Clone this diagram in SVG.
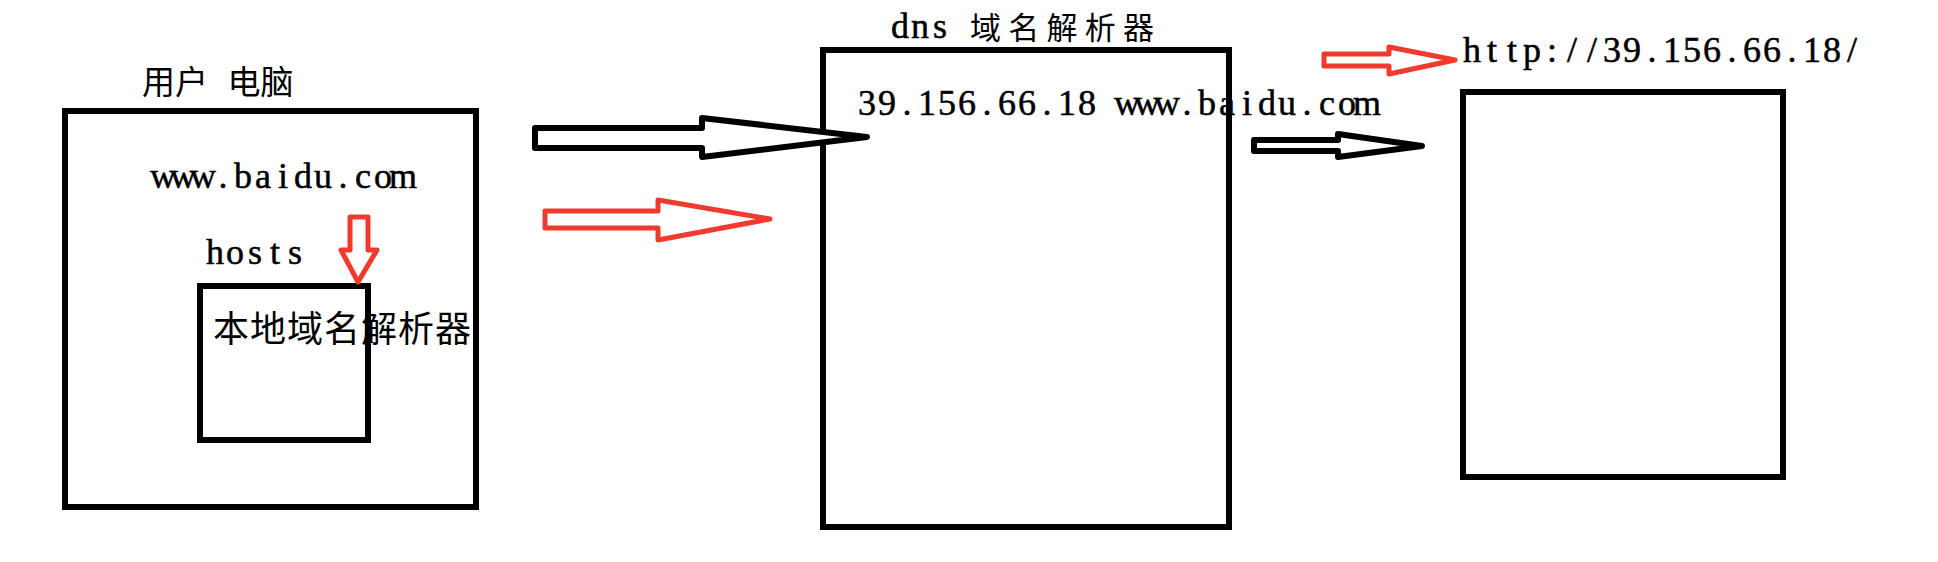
<svg xmlns="http://www.w3.org/2000/svg" width="1938" height="562" viewBox="0 0 1938 562">
  <style>
    .box { fill: none; stroke: #000; stroke-width: 6; }
    .lat { font-family: "Liberation Serif", "DejaVu Serif", serif; font-size: 36px; fill: #000; stroke: #000; stroke-width: 0.5; text-anchor: middle; }
    .cjk { font-family: "Noto Sans CJK SC", "Noto Sans CJK JP", sans-serif; fill: #000; }
    .arrow-black { fill: #fff; stroke: #000; stroke-width: 6; stroke-linejoin: round; }
    .arrow-red { fill: #fff; stroke: #f03a2e; stroke-width: 5; stroke-linejoin: round; }
  </style>
  <rect x="0" y="0" width="1938" height="562" fill="#fff"/>

  <g id="user-pc">
    <rect class="box" x="65" y="111" width="411" height="396"/>
    <text class="cjk" x="142" y="94" font-size="33" word-spacing="12">用户 电脑</text>
    <text class="lat" x="163 183 203 223 243 263 283 303 323 343 363 383 403" y="188">www.baidu.com</text>
  </g>

  <g id="local-resolver">
    <rect class="box" x="200" y="286" width="168" height="154"/>
    <text class="lat" x="215 235 255 275 295" y="264">hosts</text>
    <text class="cjk" x="213" y="342" font-size="36" textLength="258" lengthAdjust="spacing">本地域名解析器</text>
  </g>

  <g id="dns-resolver">
    <rect class="box" x="823" y="50" width="406" height="477"/>
    <text class="lat" x="900 920 940" y="38">dns</text>
    <text class="cjk" x="970" y="39" font-size="31" textLength="184" lengthAdjust="spacing">域名解析器</text>
    <text class="lat" x="867 887 907 927 947 967 987 1007 1027 1047 1067 1087 1107 1127 1147 1167 1187 1207 1227 1247 1267 1287 1307 1327 1347 1367" y="115">39.156.66.18 www.baidu.com</text>
  </g>

  <g id="web-server">
    <rect class="box" x="1463" y="92" width="320" height="385"/>
    <text class="lat" x="1472 1492 1512 1532 1552 1572 1592 1612 1632 1652 1672 1692 1712 1732 1752 1772 1792 1812 1832 1852" y="62">http://39.156.66.18/</text>
  </g>

  <g id="connectors">
    <polygon class="arrow-black" points="535,128 702,128 702,118 867,137 702,157 702,148 535,148"/>
    <polygon class="arrow-red" points="545,211 658,211 658,200 770,219 658,240 658,228 545,228"/>
    <polygon class="arrow-black" stroke-width="5" points="1254,140 1338,140 1338,134 1422,146 1338,157 1338,151 1254,151"/>
    <polygon class="arrow-red" points="1324,54 1389,54 1389,47 1455,60 1389,74 1389,66 1324,66"/>
    <polygon class="arrow-red" points="350,217 368,217 368,250 377,250 358,282 341,250 350,250"/>
  </g>
</svg>
